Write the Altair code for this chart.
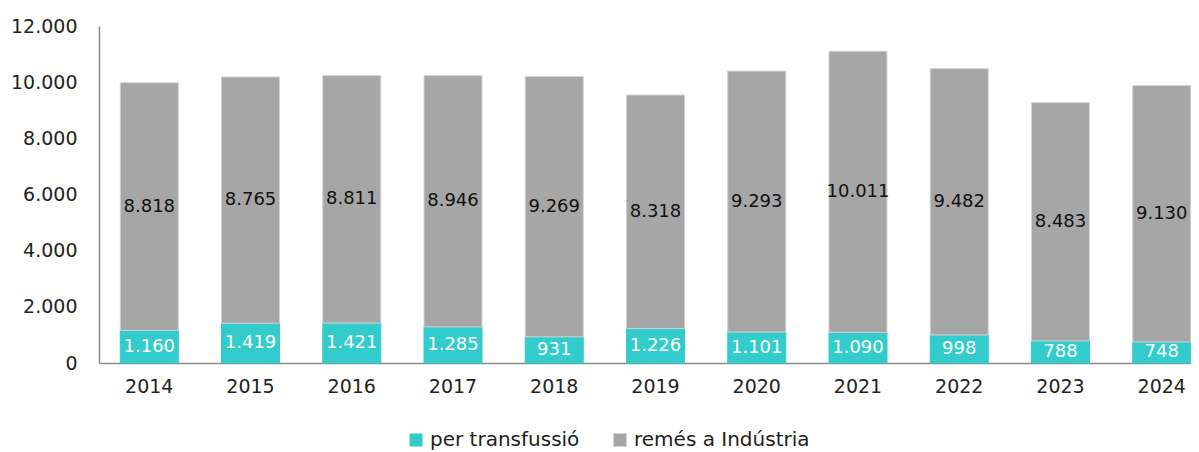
import altair as alt
import pandas as pd

years = ["2014", "2015", "2016", "2017", "2018", "2019", "2020", "2021", "2022", "2023", "2024"]
transfusio = [1160, 1419, 1421, 1285, 931, 1226, 1101, 1090, 998, 788, 748]
industria = [8818, 8765, 8811, 8946, 9269, 8318, 9293, 10011, 9482, 8483, 9130]
series = ["per transfussió", "remés a Indústria"]
colors = ["#33CCCC", "#A6A6A6"]
y_ticks = [0, 2000, 4000, 6000, 8000, 10000, 12000]

rows = []
for i, y in enumerate(years):
    for k, (s, vals) in enumerate(zip(series, [transfusio, industria])):
        v = vals[i]
        rows.append({"year": y, "serie": s, "value": v, "ord": k,
                     "label": f"{v:,}".replace(",", ".")})
df = pd.DataFrame(rows)

FONT = "DejaVu Sans"

base = alt.Chart(df).transform_stack(
    stack="value", groupby=["year"], as_=["v0", "v1"],
    sort=[alt.SortField("ord", order="ascending")]
).transform_calculate(mid="(datum.v0 + datum.v1) / 2")

xenc = alt.X("year:N", title=None, sort=years,
             scale=alt.Scale(range=[0, 1113], paddingInner=0.427, paddingOuter=0.21),
             axis=alt.Axis(labelAngle=0, ticks=False, tickSize=0, labelPadding=14,
                           domainColor="#8c8c8c", domainWidth=1.5,
                           labelFont=FONT, labelFontSize=19, labelColor="#222"))

bars = base.mark_bar(strokeWidth=1).encode(
    x=xenc,
    y=alt.Y("v0:Q", title=None, scale=alt.Scale(domain=[0, 12000], nice=False),
            axis=alt.Axis(values=y_ticks, grid=False, ticks=False, tickSize=0,
                          labelPadding=22, domainColor="#8c8c8c", domainWidth=1.5,
                          labelFont=FONT, labelFontSize=19, labelColor="#222",
                          labelExpr="replace(format(datum.value, ','), ',', '.')")),
    y2="v1:Q",
    color=alt.Color("serie:N", title=None,
                    scale=alt.Scale(domain=series, range=colors),
                    legend=alt.Legend(orient="none", legendX=307, legendY=404,
                                      direction="horizontal", symbolType="square",
                                      symbolSize=169, symbolStrokeWidth=0,
                                      labelFont=FONT, labelFontSize=20,
                                      labelColor="#222", labelOffset=4,
                                      columnPadding=30, labelLimit=400)),
    stroke=alt.Stroke("serie:N", scale=alt.Scale(domain=series, range=["#33CCCC", "#d2d2d2"]),
                      legend=None),
)

txt_t = base.transform_filter(alt.datum.serie == series[0]).mark_text(
    font=FONT, fontSize=18, color="white").encode(
    x=alt.X("year:N", sort=years), y="mid:Q", text="label:N")

txt_i = base.transform_filter(alt.datum.serie == series[1]).mark_text(
    font=FONT, fontSize=18, color="#111").encode(
    x=alt.X("year:N", sort=years), y="mid:Q", text="label:N")

chart = alt.layer(bars, txt_t, txt_i).properties(
    width=1092, height=337,
    autosize=alt.AutoSizeParams(type="none"),
    padding={"left": 91, "top": 18, "right": 0, "bottom": 88},
).configure_view(stroke=None)

chart.save("out.html", embed_options={"renderer": "svg", "actions": False})
